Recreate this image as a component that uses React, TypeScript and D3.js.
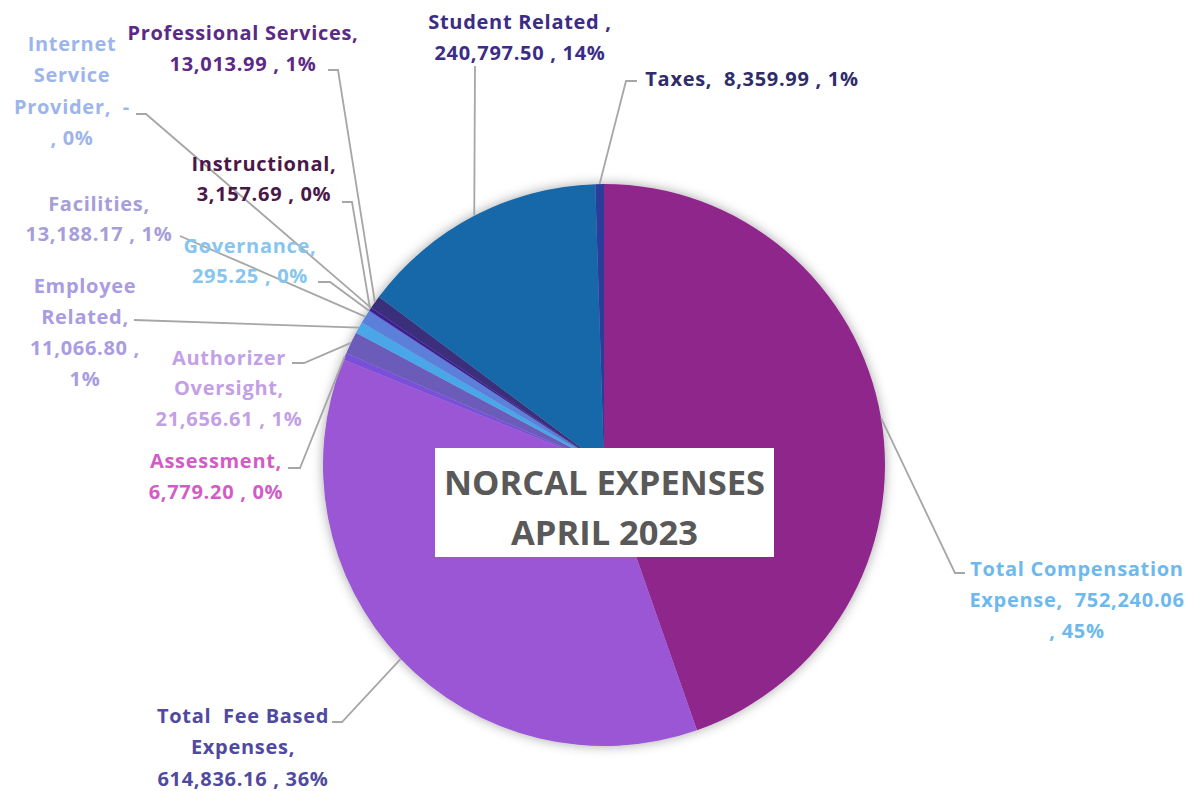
import React from "react";
import * as d3 from "d3";

const categories = [
  "Total Compensation Expense",
  "Total Fee Based Expenses",
  "Assessment",
  "Authorizer Oversight",
  "Employee Related",
  "Facilities",
  "Governance",
  "Instructional",
  "Internet Service Provider",
  "Professional Services",
  "Student Related",
  "Taxes",
];
const values = [
  752240.06, 614836.16, 6779.2, 21656.61, 11066.8, 13188.17, 295.25, 3157.69, 0, 13013.99,
  240797.5, 8359.99,
];
const sliceColors = [
  "#8F268C", "#9A56D4", "#7A4FD9", "#6A5BB8", "#48A6E8", "#5B7FD9", "#4A2AAE", "#3B1E95",
  "#4B73D0", "#3A2E7A", "#1467A8", "#2A3C9A",
];
const labelTexts = [
  ["Total Compensation", "Expense,  752,240.06", ", 45%"],
  ["Total  Fee Based", "Expenses,", "614,836.16 , 36%"],
  ["Assessment,", "6,779.20 , 0%"],
  ["Authorizer", "Oversight,", "21,656.61 , 1%"],
  ["Employee", "Related,", "11,066.80 ,", "1%"],
  ["Facilities,", "13,188.17 , 1%"],
  ["Governance,", "295.25 , 0%"],
  ["Instructional,", "3,157.69 , 0%"],
  ["Internet", "Service", "Provider,  -", ", 0%"],
  ["Professional Services,", "13,013.99 , 1%"],
  ["Student Related ,", "240,797.50 , 14%"],
  ["Taxes,  8,359.99 , 1%"],
];
const labelColors = [
  "#6DB9EE", "#4F4AA0", "#D25CC6", "#C3A0E6", "#A99CE2", "#A69ED8", "#86C5F0", "#4A1848",
  "#9DB5EA", "#5B2A86", "#3B2C86", "#2E2C6A",
];
const titleLines = ["NORCAL EXPENSES", "APRIL 2023"];

// layout: label centre x, centre y of first line, line spacing, leader start & elbow
const labelLayout = [
  { cx: 1077, cy: 568, dy: 31, sx: 965, sy: 573, ex: 955, ey: 573 },
  { cx: 243, cy: 715, dy: 31.5, sx: 332, sy: 722, ex: 342, ey: 722 },
  { cx: 216, cy: 460, dy: 31, sx: 288, sy: 468, ex: 300, ey: 468 },
  { cx: 229, cy: 357, dy: 30.5, sx: 292, sy: 363, ex: 304, ey: 363 },
  { cx: 85, cy: 285, dy: 31, sx: 134, sy: 320, ex: 134, ey: 320 },
  { cx: 99, cy: 203, dy: 30.5, sx: 180, sy: 236, ex: 180, ey: 236 },
  { cx: 250, cy: 245, dy: 30.5, sx: 318, sy: 282, ex: 330, ey: 282 },
  { cx: 264, cy: 163, dy: 30.5, sx: 342, sy: 202, ex: 352, ey: 202 },
  { cx: 72, cy: 43, dy: 31.5, sx: 136, sy: 114, ex: 146, ey: 114 },
  { cx: 243, cy: 32, dy: 31, sx: 328, sy: 70, ex: 338, ey: 70 },
  { cx: 520, cy: 21, dy: 31, sx: 475, sy: 66, ex: 475, ey: 66 },
  { cx: 752, cy: 78, dy: 31, sx: 637, sy: 81, ex: 626, ey: 81 },
];

const W = 1200;
const H = 791;
const CX = 604;
const CY = 465;
const R = 281;
const FONT = "'Open Sans', Lato, sans-serif";

export default function App() {
  const pie = d3
    .pie<number>()
    .sort(null)
    .startAngle(0)
    .endAngle(2 * Math.PI)
    .value((d) => d);
  const arcs = pie(values);
  const arc = d3.arc<d3.PieArcDatum<number>>().innerRadius(0).outerRadius(R);
  const edge = (a: d3.PieArcDatum<number>) => {
    const m = (a.startAngle + a.endAngle) / 2;
    return [CX + R * Math.sin(m), CY - R * Math.cos(m)];
  };

  return (
    <svg
      width={W}
      height={H}
      style={{ position: "absolute", left: 0, top: 0, background: "#fff" }}
      fontFamily={FONT}
    >
      <defs>
        <filter id="sh" x="-20%" y="-20%" width="140%" height="140%">
          <feDropShadow dx="0" dy="0" stdDeviation="6" floodColor="#000" floodOpacity="0.35" />
        </filter>
      </defs>
      <g transform={`translate(${CX},${CY})`} filter="url(#sh)">
        {arcs.map((a, i) => (
          <path key={i} d={arc(a) || ""} fill={sliceColors[i]} />
        ))}
      </g>
      <g fill="none" stroke="#A6A6A6" strokeWidth={1.8}>
        {arcs.map((a, i) => {
          const L = labelLayout[i];
          const [px, py] = edge(a);
          return (
            <polyline
              key={i}
              points={`${L.sx},${L.sy} ${L.ex},${L.ey} ${px},${py}`}
            />
          );
        })}
      </g>
      <g fontWeight={700} fontSize={20} letterSpacing={0.7} textAnchor="middle">
        {labelTexts.map((lines, i) => {
          const L = labelLayout[i];
          return (
            <text key={i} fill={labelColors[i]}>
              {lines.map((t, j) => (
                <tspan
                  key={j}
                  x={L.cx}
                  y={L.cy + j * L.dy}
                  dominantBaseline="central"
                  style={{ whiteSpace: "pre" }}
                >
                  {t}
                </tspan>
              ))}
            </text>
          );
        })}
      </g>
      <rect x={435} y={448} width={339} height={109} fill="#fff" />
      <g fontWeight={700} fontSize={34.5} textAnchor="middle" fill="#595959">
        {titleLines.map((t, j) => (
          <text key={j} x={604.5} y={481 + j * 50} dominantBaseline="central">
            {t}
          </text>
        ))}
      </g>
    </svg>
  );
}
